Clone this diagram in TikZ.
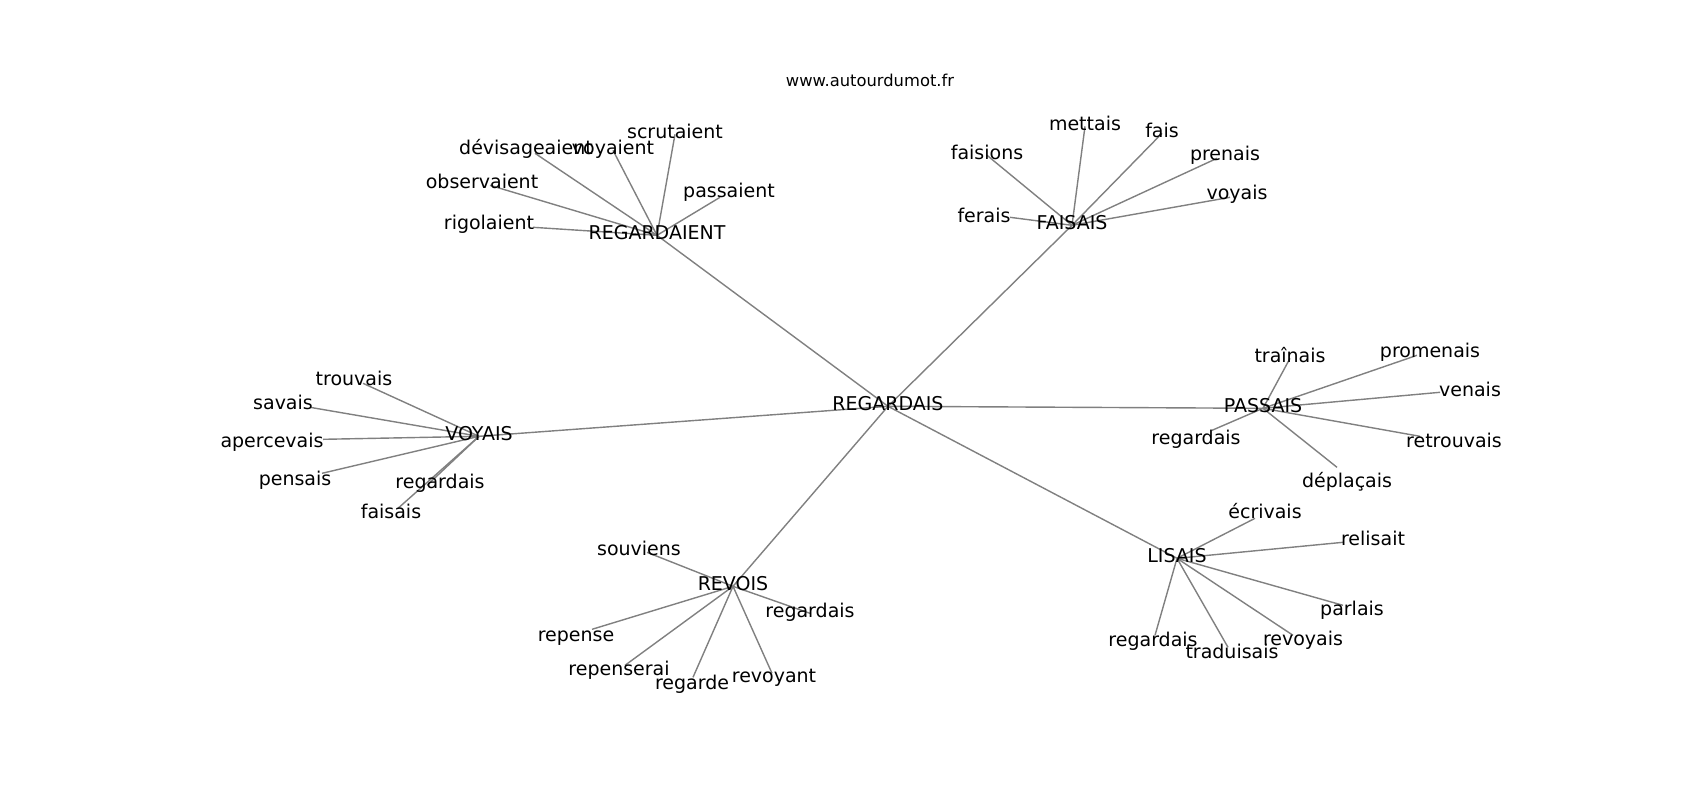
\documentclass[tikz,border=0pt]{standalone}
\usepackage{fontspec}
\setmainfont{DejaVu Sans}
\usetikzlibrary{backgrounds}

\begin{document}
\begin{tikzpicture}[x=0.01cm, y=-0.01cm,
    every node/.style={inner sep=0pt, anchor=base, text height=3.7pt, text depth=1.6pt, font=\fontsize{5.4}{6}\selectfont},
    link/.style={draw=gray, line width=0.4pt}]
    \useasboundingbox (0,0) rectangle (1700,800);

    % Title
    \node[font=\fontsize{4.65}{5.5}\selectfont] (site) at (870,87) {www.autourdumot.fr};

    % Hubs
    \node (REGARDAIS) at (888,410) {REGARDAIS};
    \node (REGARDAIENT) at (657,239) {REGARDAIENT};
    \node (FAISAIS) at (1072,229) {FAISAIS};
    \node (PASSAIS) at (1263,412) {PASSAIS};
    \node (LISAIS) at (1177,562) {LISAIS};
    \node (REVOIS) at (733,590) {REVOIS};
    \node (VOYAIS) at (479,440) {VOYAIS};

    % Leaves of REGARDAIENT
    \node (rigolaient) at (489,229) {rigolaient};
    \node (observaient) at (482,188) {observaient};
    \node (devisageaient) at (526,154) {dévisageaient};
    \node (voyaient) at (613,154) {voyaient};
    \node (scrutaient) at (675,138) {scrutaient};
    \node (passaient) at (729,197) {passaient};

    % Leaves of FAISAIS
    \node (faisions) at (987,159) {faisions};
    \node (mettais) at (1085,130) {mettais};
    \node (fais) at (1162,137) {fais};
    \node (prenais) at (1225,160) {prenais};
    \node (voyais) at (1237,199) {voyais};
    \node (ferais) at (984,222) {ferais};

    % Leaves of PASSAIS
    \node (trainais) at (1290,362) {traînais};
    \node (promenais) at (1430,357) {promenais};
    \node (venais) at (1470,396) {venais};
    \node (retrouvais) at (1454,447) {retrouvais};
    \node (deplacais) at (1347,487) {déplaçais};
    \node (regardaisP) at (1196,444) {regardais};

    % Leaves of LISAIS
    \node (ecrivais) at (1265,518) {écrivais};
    \node (relisait) at (1373,545) {relisait};
    \node (parlais) at (1352,615) {parlais};
    \node (revoyais) at (1303,645) {revoyais};
    \node (traduisais) at (1232,658) {traduisais};
    \node (regardaisL) at (1153,646) {regardais};

    % Leaves of REVOIS
    \node (souviens) at (639,555) {souviens};
    \node (regardaisR) at (810,617) {regardais};
    \node (repense) at (576,641) {repense};
    \node (repenserai) at (619,675) {repenserai};
    \node (regarde) at (692,689) {regarde};
    \node (revoyant) at (774,682) {revoyant};

    % Leaves of VOYAIS
    \node (trouvais) at (354,385) {trouvais};
    \node (savais) at (283,409) {savais};
    \node (apercevais) at (272,447) {apercevais};
    \node (pensais) at (295,485) {pensais};
    \node (regardaisV) at (440,488) {regardais};
    \node (faisais) at (391,518) {faisais};

    % Edges
    \begin{scope}[on background layer]
    \draw[link] (REGARDAIS.center) -- (REGARDAIENT.center);
    \draw[link] (REGARDAIS.center) -- (FAISAIS.center);
    \draw[link] (REGARDAIS.center) -- (PASSAIS.center);
    \draw[link] (REGARDAIS.center) -- (LISAIS.center);
    \draw[link] (REGARDAIS.center) -- (REVOIS.center);
    \draw[link] (REGARDAIS.center) -- (VOYAIS.center);

    \draw[link] (REGARDAIENT.center) -- ([shift={(44,2)}]rigolaient.center);
    \draw[link] (REGARDAIENT.center) -- ([shift={(8,1)}]observaient.center);
    \draw[link] (REGARDAIENT.center) -- ([shift={(9,3)}]devisageaient.center);
    \draw[link] (REGARDAIENT.center) -- (voyaient.center);
    \draw[link] (REGARDAIENT.center) -- (scrutaient.center);
    \draw[link] (REGARDAIENT.center) -- ([shift={(-9,4)}]passaient.center);

    \draw[link] (FAISAIS.center) -- (faisions.center);
    \draw[link] (FAISAIS.center) -- (mettais.center);
    \draw[link] (FAISAIS.center) -- (fais.center);
    \draw[link] (FAISAIS.center) -- ([shift={(-8,2)}]prenais.center);
    \draw[link] (FAISAIS.center) -- ([shift={(-7,2)}]voyais.center);
    \draw[link] (FAISAIS.center) -- ([shift={(26,-1)}]ferais.center);

    \draw[link] (PASSAIS.center) -- (trainais.center);
    \draw[link] (PASSAIS.center) -- ([shift={(-13,2)}]promenais.center);
    \draw[link] (PASSAIS.center) -- ([shift={(-30,0)}]venais.center);
    \draw[link] (PASSAIS.center) -- ([shift={(-34,-7)}]retrouvais.center);
    \draw[link] (PASSAIS.center) -- ([shift={(-10,-16)}]deplacais.center);
    \draw[link] (PASSAIS.center) -- ([shift={(16,-10)}]regardaisP.center);

    \draw[link] (LISAIS.center) -- ([shift={(-10,4)}]ecrivais.center);
    \draw[link] (LISAIS.center) -- ([shift={(-30,1)}]relisait.center);
    \draw[link] (LISAIS.center) -- ([shift={(-9,-6)}]parlais.center);
    \draw[link] (LISAIS.center) -- ([shift={(-10,-6)}]revoyais.center);
    \draw[link] (LISAIS.center) -- ([shift={(-4,-7)}]traduisais.center);
    \draw[link] (LISAIS.center) -- ([shift={(2,-7)}]regardaisL.center);

    \draw[link] (REVOIS.center) -- ([shift={(8,1)}]souviens.center);
    \draw[link] (REVOIS.center) -- (regardaisR.center);
    \draw[link] (REVOIS.center) -- ([shift={(16,-8)}]repense.center);
    \draw[link] (REVOIS.center) -- ([shift={(6,-6)}]repenserai.center);
    \draw[link] (REVOIS.center) -- ([shift={(1,-8)}]regarde.center);
    \draw[link] (REVOIS.center) -- ([shift={(-2,-5)}]revoyant.center);

    \draw[link] (VOYAIS.center) -- ([shift={(9,2)}]trouvais.center);
    \draw[link] (VOYAIS.center) -- ([shift={(27,2)}]savais.center);
    \draw[link] (VOYAIS.center) -- ([shift={(51,-4)}]apercevais.center);
    \draw[link] (VOYAIS.center) -- ([shift={(27,-8)}]pensais.center);
    \draw[link] (VOYAIS.center) -- ([shift={(-13,1)}]regardaisV.center);
    \draw[link] (VOYAIS.center) -- ([shift={(7,-6)}]faisais.center);
    \end{scope}
\end{tikzpicture}
\end{document}
